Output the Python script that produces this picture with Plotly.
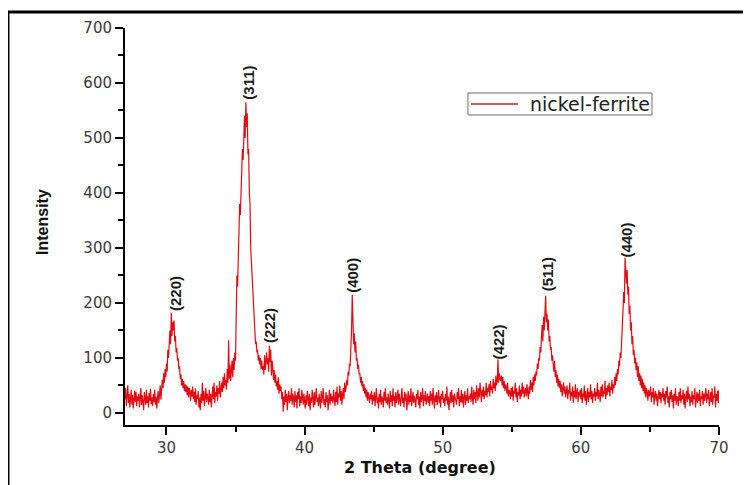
import numpy as np
import plotly.graph_objects as go

# ---------------- data ----------------
series_name = "nickel-ferrite"
theta_start = 27.0
theta_step = 0.05
intensity = [
    25, 45, 12, 30, 50, 18, 35, 10, 28, 42, 15, 33, 8, 25, 40, 20, 38, 12, 30, 22,            # 27
    35, 10, 28, 45, 14, 32, 20, 5, 38, 25, 15, 42, 18, 30, 10, 36, 22, 44, 16, 28,            # 28
    12, 35, 20, 42, 15, 30, 8, 26, 40, 18, 32, 50, 24, 38, 60, 45, 72, 55, 80, 65,            # 29
    90, 75, 115, 100, 135, 150, 125, 182, 140, 165, 150, 168, 130, 140, 110, 118, 95, 100, 80, 85,  # 30
    62, 70, 50, 62, 45, 58, 40, 52, 38, 50, 32, 48, 28, 45, 38, 22, 42, 30, 48, 25,           # 31
    38, 20, 45, 15, 32, 25, 40, 10, 28, 5, 35, 18, 55, 22, 40, 12, 30, 45, 20, 35,            # 32
    28, 15, 42, 20, 35, 10, 30, 48, 25, 55, 18, 38, 30, 50, 22, 45, 35, 58, 28, 48,           # 33
    55, 38, 65, 45, 72, 50, 60, 42, 80, 55, 132, 62, 88, 58, 75, 95, 65, 100, 78, 110,        # 34
    95, 180, 250, 230, 300, 340, 380, 360, 420, 450, 480, 460, 510, 540, 500, 565, 520, 545, 470, 480,  # 35
    400, 380, 300, 270, 240, 210, 190, 160, 150, 125, 130, 110, 115, 95, 105, 88, 100, 80, 95, 78,  # 36
    85, 70, 105, 78, 95, 110, 88, 100, 75, 122, 92, 115, 68, 95, 82, 60, 78, 55, 70, 48,      # 37
    58, 42, 65, 35, 52, 40, 48, 25, 38, 2, 30, 15, 42, 20, 35, 5, 28, 40, 18, 32,             # 38
    22, 45, 15, 35, 28, 10, 40, 20, 32, 8, 38, 25, 45, 12, 30, 18, 42, 25, 15, 35,            # 39
    20, 8, 32, 15, 40, 25, 12, 35, 5, 28, 18, 42, 22, 10, 38, 15, 30, 45, 20, 28,             # 40
    12, 35, 22, 8, 40, 18, 30, 45, 15, 25, 10, 38, 20, 32, 5, 28, 42, 15, 35, 22,             # 41
    30, 18, 42, 25, 12, 38, 20, 48, 15, 35, 28, 50, 22, 40, 15, 32, 45, 25, 55, 38,           # 42
    45, 60, 50, 75, 68, 90, 85, 120, 150, 215, 140, 125, 145, 110, 130, 95, 100, 80, 88, 70,  # 43
    72, 55, 65, 48, 58, 40, 52, 35, 45, 28, 42, 22, 38, 30, 18, 35, 25, 40, 15, 32,           # 44
    22, 38, 12, 30, 45, 18, 28, 8, 35, 20, 42, 15, 30, 25, 10, 38, 22, 45, 18, 28,            # 45
    15, 35, 25, 8, 40, 20, 32, 12, 45, 22, 30, 10, 38, 18, 28, 42, 15, 35, 25, 12,            # 46
    30, 45, 18, 28, 10, 38, 22, 35, 5, 25, 40, 15, 32, 20, 45, 12, 28, 38, 18, 30,            # 47
    22, 10, 35, 25, 42, 15, 30, 8, 38, 20, 28, 45, 12, 32, 22, 40, 15, 28, 35, 18,            # 48
    30, 12, 40, 22, 35, 15, 45, 25, 8, 32, 20, 38, 14, 28, 42, 18, 30, 10, 35, 25,            # 49
    40, 18, 28, 12, 35, 22, 48, 15, 30, 5, 25, 38, 18, 42, 20, 32, 10, 35, 28, 22,            # 50
    15, 38, 25, 45, 12, 30, 20, 42, 18, 35, 10, 28, 40, 15, 32, 22, 45, 18, 30, 25,           # 51
    35, 20, 48, 28, 15, 42, 25, 38, 18, 50, 30, 22, 45, 28, 55, 35, 20, 42, 30, 48,           # 52
    25, 40, 32, 55, 28, 45, 38, 52, 30, 58, 42, 48, 35, 62, 45, 55, 40, 68, 50, 58,           # 53
    97, 55, 72, 62, 58, 68, 50, 65, 45, 58, 40, 52, 48, 35, 55, 30, 42, 38, 25, 45,           # 54
    30, 48, 22, 40, 35, 55, 28, 45, 20, 38, 32, 50, 25, 42, 30, 55, 35, 48, 28, 40,           # 55
    45, 30, 52, 38, 25, 48, 35, 60, 42, 55, 38, 65, 50, 70, 58, 75, 68, 90, 80, 100,          # 56
    95, 120, 110, 140, 160, 130, 175, 150, 195, 213, 165, 180, 150, 170, 130, 140, 115, 120, 95, 105,  # 57
    88, 75, 95, 65, 78, 55, 70, 48, 62, 45, 58, 38, 52, 30, 45, 55, 35, 48, 28, 40,           # 58
    50, 25, 42, 35, 55, 22, 38, 30, 48, 18, 40, 28, 52, 25, 35, 45, 20, 38, 30, 42,           # 59
    25, 45, 18, 35, 28, 50, 22, 40, 15, 32, 45, 20, 38, 28, 52, 25, 40, 18, 35, 30,           # 60
    45, 22, 38, 30, 55, 25, 42, 35, 20, 48, 30, 52, 28, 40, 35, 58, 25, 45, 32, 50,           # 61
    38, 55, 30, 48, 42, 60, 35, 52, 45, 65, 50, 72, 58, 80, 70, 95, 85, 110, 100, 130,        # 62
    150, 185, 220, 200, 282, 250, 235, 260, 215, 230, 180, 195, 150, 165, 125, 140, 105, 115, 90, 100,  # 63
    78, 92, 65, 85, 58, 72, 50, 68, 45, 62, 40, 55, 35, 50, 28, 45, 38, 22, 42, 30,           # 64
    35, 48, 20, 38, 28, 45, 15, 32, 40, 22, 35, 12, 30, 42, 25, 38, 18, 35, 28, 45,           # 65
    22, 35, 15, 40, 28, 48, 18, 30, 10, 38, 25, 42, 20, 32, 8, 35, 22, 45, 15, 30,            # 66
    28, 12, 38, 22, 45, 18, 32, 25, 42, 15, 35, 8, 30, 40, 20, 48, 25, 35, 12, 30,            # 67
    20, 40, 15, 32, 25, 45, 10, 28, 38, 18, 35, 22, 42, 12, 30, 25, 40, 15, 35, 22,           # 68
    30, 45, 18, 35, 25, 42, 12, 30, 38, 20, 45, 15, 32, 28, 48, 10, 35, 22, 40, 18,           # 69
    42,                                                                                       # 70
]
two_theta = np.round(theta_start + theta_step * np.arange(len(intensity)), 2)

peak_labels = ["(220)", "(311)", "(222)", "(400)", "(422)", "(511)", "(440)"]
peak_theta = [30.3, 35.8, 37.4, 43.4, 54.0, 57.5, 63.2]

x_ticks = [30, 40, 50, 60, 70]
y_ticks = [0, 100, 200, 300, 400, 500, 600, 700]

# ---------------- styling / layout ----------------
label_dx = [0.35, 0.12, 0.06, 0.1, 0.0, 0.04, 0.13]
label_y = [217, 601, 159, 251, 130, 252, 315]

line_color = "rgb(228,10,18)"
tick_font = dict(family="DejaVu Sans", size=15, color="#3a3a3a")

fig = go.Figure()
fig.add_trace(go.Scatter(
    x=two_theta, y=intensity, mode="lines", name=series_name,
    line=dict(color=line_color, width=1.2), showlegend=False,
))

for lab, px, dx, ly in zip(peak_labels, peak_theta, label_dx, label_y):
    fig.add_annotation(
        x=px + dx, y=ly, text=lab, showarrow=False, textangle=-90,
        xanchor="center", yanchor="middle",
        font=dict(family="Liberation Sans", size=15, color="#1a1a1a", weight="bold"),
    )

# axis titles
fig.add_annotation(
    x=0.497, y=-0.108, xref="paper", yref="paper", text="<b>2 Theta (degree)</b>",
    showarrow=False, xanchor="center", yanchor="middle",
    font=dict(family="DejaVu Sans", size=16, color="#111111"),
)
fig.add_annotation(
    x=-0.14, y=0.511, xref="paper", yref="paper", text="<b>Intensity</b>",
    showarrow=False, xanchor="center", yanchor="middle", textangle=-90,
    font=dict(family="Liberation Sans", size=16, color="#111111"),
)

# legend box (drawn as in the reference: thin box, long line sample)
fig.add_shape(type="rect", xref="paper", yref="paper",
              x0=0.5774, x1=0.8872, y0=0.7809, y1=0.8363,
              line=dict(color="#6f6f6f", width=1), fillcolor="white")
fig.add_shape(type="line", xref="paper", yref="paper",
              x0=0.5825, x1=0.6616, y0=0.8086, y1=0.8086,
              line=dict(color="#b4282c", width=1.5))
fig.add_annotation(
    x=0.6785, y=0.8086, xref="paper", yref="paper", text=series_name,
    showarrow=False, xanchor="left", yanchor="middle",
    font=dict(family="DejaVu Sans", size=19, color="#222222"),
)

# outer frame (partially cropped in reference)
fig.add_shape(type="rect", xref="paper", yref="paper",
              x0=-0.197, x1=1.2, y0=-0.4, y1=1.0403,
              line=dict(color="black", width=3), fillcolor="rgba(0,0,0,0)", layer="above")

fig.update_layout(
    width=743, height=477,
    margin=dict(l=117, r=32, t=20, b=60),
    paper_bgcolor="white", plot_bgcolor="white",
    showlegend=False,
    xaxis=dict(
        range=[27, 70], tickvals=x_ticks, ticktext=[str(v) for v in x_ticks],
        showline=True, linecolor="black", linewidth=2, mirror=False,
        ticks="outside", ticklen=8, tickwidth=2, tickcolor="black",
        minor=dict(ticks="outside", ticklen=5, tickwidth=2, tickcolor="black", dtick=5, tick0=30),
        showgrid=False, zeroline=False, tickfont=tick_font,
    ),
    yaxis=dict(
        range=[-22, 700], tickvals=y_ticks, ticktext=[str(v) for v in y_ticks],
        showline=True, linecolor="black", linewidth=2, mirror=False,
        ticks="outside", ticklen=8, tickwidth=2, tickcolor="black",
        minor=dict(ticks="outside", ticklen=5, tickwidth=2, tickcolor="black", dtick=50, tick0=0),
        showgrid=False, zeroline=False, tickfont=tick_font,
    ),
)

fig.write_html("out.html")
